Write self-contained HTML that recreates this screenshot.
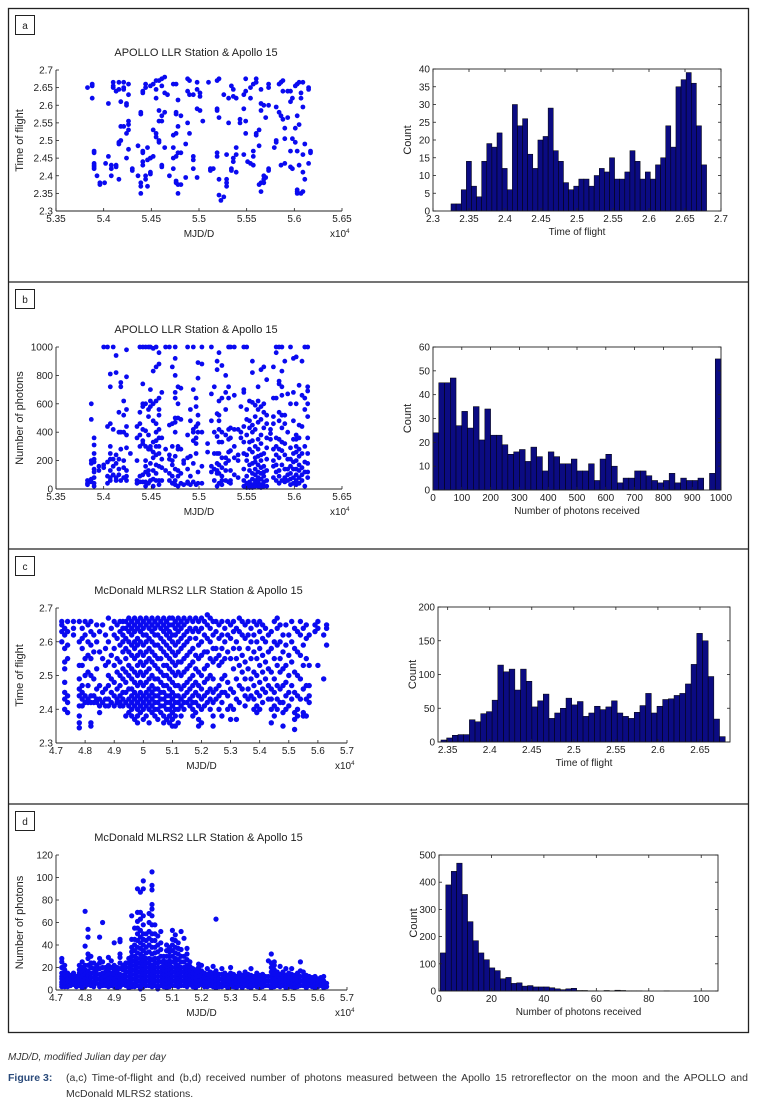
<!DOCTYPE html>
<html><head><meta charset="utf-8">
<style>
html,body{margin:0;padding:0;background:#fff;}
body{width:758px;height:1102px;position:relative;overflow:hidden;font-family:"Liberation Sans Narrow","Liberation Sans",sans-serif;}
svg{position:absolute;left:0;top:0;}
svg text{font-family:"Liberation Sans Narrow","Liberation Sans",sans-serif;fill:#222;}
.cap1{position:absolute;left:8px;top:1052px;font-size:10px;font-style:italic;color:#333;}
.cap2{position:absolute;left:8px;top:1070px;width:740px;font-size:10.5px;color:#333;line-height:16px;}
.cap2 b{position:absolute;left:0;top:0;color:#2a4a7a;}
.cap2 div{margin-left:58px;text-align:justify;text-align-last:left;}
</style></head>
<body>
<svg id="fig" width="758" height="1102" viewBox="0 0 758 1102"></svg>
<div class="cap1">MJD/D, modified Julian day per day</div>
<div class="cap2"><b>Figure 3:</b><div>(a,c) Time-of-flight and (b,d) received number of photons measured between the Apollo 15 retroreflector on the moon and the APOLLO and McDonald MLRS2 stations.</div></div>
<script>
// ---------- DATA ----------
const scatterA = [
[5.383,[2.65]],[5.388,[2.62,2.655,2.66]],[5.39,[2.47,2.465,2.43,2.42,2.425,2.435]],[5.393,[2.40]],[5.396,[2.375,2.38]],
[5.401,[2.38]],[5.402,[2.435]],[5.405,[2.455,2.605]],[5.408,[2.43,2.42,2.40]],[5.41,[2.65,2.655,2.665]],
[5.413,[2.43,2.425,2.64]],[5.416,[2.49,2.495,2.39,2.665,2.645]],[5.418,[2.50,2.54,2.61]],[5.421,[2.54,2.665,2.65,2.645]],
[5.424,[2.45,2.52,2.60,2.605]],[5.426,[2.66,2.63,2.545,2.555,2.53,2.475]],[5.43,[2.42,2.415]],[5.436,[2.40,2.485]],
[5.439,[2.58,2.575,2.35,2.37,2.38]],[5.441,[2.64,2.635,2.465,2.47,2.43,2.44]],[5.444,[2.66,2.65,2.40,2.39]],
[5.446,[2.48,2.445,2.37]],[5.449,[2.655,2.45,2.41,2.405,2.45]],[5.452,[2.66,2.53,2.455]],[5.455,[2.67,2.62,2.645,2.52,2.51]],
[5.458,[2.67,2.585,2.555,2.495,2.50]],[5.461,[2.675,2.655,2.57,2.555,2.43,2.425]],[5.464,[2.68,2.635,2.58,2.48]],
[5.467,[2.63]],[5.469,[2.40]],[5.473,[2.66,2.515,2.48,2.45,2.42]],[5.476,[2.66,2.58,2.575,2.52,2.455,2.38,2.385]],
[5.478,[2.615,2.54,2.465,2.35,2.375]],[5.481,[2.57,2.465,2.375]],[5.486,[2.49,2.395]],[5.488,[2.64,2.55,2.675]],
[5.49,[2.63,2.52,2.67]],[5.494,[2.63,2.455,2.445,2.42]],[5.498,[2.665,2.645,2.59,2.395]],[5.501,[2.635,2.585,2.625]],
[5.504,[2.555]],[5.51,[2.665]],[5.512,[2.415,2.42]],[5.515,[2.42]],[5.519,[2.67,2.59,2.585,2.465,2.455]],
[5.521,[2.675,2.565,2.345,2.39]],[5.523,[2.33]],[5.526,[2.63,2.34]],[5.529,[2.46,2.38,2.39,2.37]],[5.531,[2.62,2.55]],
[5.534,[2.655,2.42,2.415]],[5.536,[2.645,2.625,2.45,2.44]],[5.539,[2.62,2.46,2.41,2.48]],[5.543,[2.55,2.56]],
[5.547,[2.63,2.59,2.46]],[5.549,[2.675,2.64,2.555,2.52]],[5.551,[2.44]],[5.554,[2.62,2.65,2.435]],
[5.557,[2.66,2.47,2.455,2.43]],[5.56,[2.675,2.665,2.52,2.515]],[5.563,[2.53,2.485,2.375]],
[5.565,[2.645,2.605,2.585,2.355,2.38]],[5.568,[2.60,2.40,2.39,2.38]],[5.57,[2.565,2.395]],[5.573,[2.66,2.65,2.60,2.42,2.415]],
[5.579,[2.48]],[5.581,[2.595,2.50,2.495]],[5.584,[2.66,2.58]],[5.586,[2.665,2.57,2.43]],[5.588,[2.67,2.64,2.56]],
[5.59,[2.535,2.505,2.435]],[5.593,[2.64,2.565]],[5.596,[2.64,2.61,2.47,2.425]],[5.598,[2.62,2.42,2.505]],
[5.601,[2.655,2.535,2.495]],[5.603,[2.66,2.57,2.36,2.355,2.35,2.47]],[5.605,[2.665,2.545,2.43]],[5.607,[2.635,2.62,2.35]],
[5.609,[2.665,2.595,2.41,2.46,2.355]],[5.611,[2.49,2.39]],[5.615,[2.65,2.645,2.435]],[5.617,[2.47,2.465]]
];
const scatterB = [
[5.383,[60,40,30]],[5.387,[600,490,200,180,70,50]],[5.39,[360,310,250,210,190,140,120,80,40,20]],[5.395,[160,130]],
[5.40,[1000,170,150]],[5.404,[440,190,90,40,1000]],[5.407,[810,720,460,300,250,210,130,80,60]],[5.41,[1000,420,210,160,100]],
[5.413,[820,940,240,180,80,60]],[5.416,[540,400,210,140,100]],[5.418,[750,720,400,280,60]],[5.421,[620,520,400,200,150,80]],
[5.424,[980,790,560,440,380,290,130,90,60]],[5.428,[250]],[5.435,[440,360,200,60,40]],[5.438,[1000,540,460,380,300,90,50]],
[5.441,[1000,740,600,580,420,340,320,100,50]],[5.444,[1000,600,410,300,200,160,120,50,20]],[5.447,[1000,560,510,380,280,130,100,40]],
[5.449,[1000,700,620,580,300,280,180,60]],[5.452,[990,830,600,480,330,260,220,130,70,20]],
[5.455,[1000,860,620,460,400,340,300,240,170,110,60]],[5.458,[960,880,640,560,520,420,360,300,250,160,60,30]],
[5.461,[680,360,210,150,60]],[5.465,[1000,280,130]],[5.469,[1000,450,240,210,110,60]],[5.472,[860,460,300,200,170,90,40]],
[5.475,[1000,920,800,680,640,500,470,400,230,140,60,30]],[5.478,[720,600,500,300,280,130,90,20]],[5.481,[710,490,280,110,40]],
[5.484,[200,180,30]],[5.488,[1000,380,220,140,50,40]],[5.491,[560,480,230,90,30]],[5.494,[1000,700,420,400,340,180,50]],
[5.497,[640,580,440,360,320,250,30]],[5.499,[890,780,520,460,400,120,40]],[5.503,[1000,880,400,160,40]],[5.509,[320,260]],
[5.513,[1000,670,480,160,120]],[5.516,[720,400,250,140,60]],[5.519,[900,840,530,370,250,180,130,110,20]],
[5.521,[960,620,520,480,420,330,250,170,110,40]],[5.524,[870,640,400,330,220,150,90,60,30]],[5.528,[800,680,560,380,220,180,130,60]],
[5.531,[1000,720,640,420,350,260,200,50]],[5.533,[1000,430,360,270,130,60,40]],[5.537,[1000,660,420,300,220,100]],
[5.541,[420,240,200,80]],[5.544,[580,400,360]],[5.547,[1000,700,680,440,330,250,140,60,20]],
[5.55,[1000,560,490,380,240,200,90,40,10]],[5.553,[620,480,430,330,280,170,130,50,20,10]],
[5.556,[900,820,610,450,400,340,260,180,110,70,30,10]],[5.559,[590,510,420,300,220,190,140,100,60,40,20]],
[5.562,[720,620,560,470,350,280,230,170,120,80,50,20]],[5.565,[840,580,490,380,320,240,200,150,110,70,30,10]],
[5.568,[860,600,540,430,250,160,120,90,50,20]],[5.571,[770,520,460,360,290,210,130,60,20]],[5.575,[420,390,350]],
[5.578,[860,640,510,460,280,200,160,80]],[5.581,[1000,960,640,360,300,240,170,120,60]],
[5.584,[1000,760,740,540,480,350,280,220,130,90,40]],[5.587,[1000,830,720,660,520,430,330,270,170,60]],
[5.59,[900,520,460,320,240,140,80,50]],[5.593,[670,400,210,140,100,60]],[5.596,[1000,600,290,210,160,110,70,30]],
[5.599,[920,680,480,350,250,190,140,80,40]],[5.602,[930,600,380,350,300,260,200,140,100,60,30]],
[5.605,[730,450,360,280,230,170,130,80,40]],[5.608,[900,660,440,250,150,100,60]],[5.611,[1000,640,560,300,190,120,20]],
[5.614,[1000,720,690,600,510,360,250,180,120,80]]
];
const scatterC = [
[4.72,[2.66,2.65,2.63,2.60]],[4.73,[2.64,2.62,2.58,2.54,2.52,2.48,2.45,2.43,2.40]],[4.74,[2.66,2.63,2.59,2.55,2.44,2.42,2.39]],
[4.76,[2.66,2.64,2.62]],[4.78,[2.66,2.60,2.53,2.49,2.46,2.44,2.41,2.38,2.36,2.345]],[4.79,[2.64,2.61,2.58,2.53,2.47,2.45,2.43,2.41]],
[4.80,[2.66,2.62,2.55,2.50,2.44,2.42]],[4.81,[2.65,2.60,2.56,2.51,2.47,2.43,2.42]],[4.82,[2.66,2.63,2.59,2.55,2.50,2.44,2.42,2.36,2.35]],
[4.83,[2.62,2.57,2.49,2.44,2.42]],[4.84,[2.65,2.60,2.52,2.46,2.43,2.42]],[4.85,[2.63,2.57,2.47,2.43,2.41,2.39]],
[4.86,[2.65,2.55,2.45,2.42]],[4.87,[2.62,2.58,2.53,2.46,2.43,2.41]],[4.88,[2.67,2.60,2.54,2.50,2.47,2.43,2.41]],
[4.89,[2.64,2.56,2.49,2.45,2.42]],[4.90,[2.66,2.62,2.58,2.53,2.48,2.44,2.41]],[4.91,[2.65,2.61,2.55,2.51,2.46,2.43,2.42]],
[4.92,[2.66,2.63,2.59,2.54,2.50,2.47,2.44,2.42,2.41]],[4.93,[2.66,2.64,2.62,2.60,2.57,2.52,2.49,2.45,2.43,2.41]],
[4.94,[2.66,2.64,2.61,2.58,2.55,2.51,2.48,2.45,2.42,2.38]],[4.95,[2.67,2.65,2.63,2.60,2.57,2.53,2.50,2.46,2.43,2.41,2.39]],
[4.96,[2.66,2.64,2.62,2.59,2.56,2.52,2.49,2.46,2.44,2.42,2.40,2.38]],[4.97,[2.67,2.65,2.63,2.60,2.58,2.55,2.51,2.48,2.45,2.43,2.41,2.37]],
[4.98,[2.66,2.64,2.61,2.59,2.56,2.53,2.50,2.47,2.44,2.42,2.40,2.38,2.36]],[4.99,[2.67,2.65,2.63,2.60,2.57,2.54,2.51,2.48,2.45,2.43,2.41,2.39]],
[5.00,[2.66,2.64,2.62,2.59,2.56,2.53,2.50,2.47,2.44,2.42,2.40,2.37]],[5.01,[2.67,2.65,2.62,2.60,2.57,2.54,2.51,2.48,2.45,2.43,2.41,2.38]],
[5.02,[2.66,2.64,2.61,2.58,2.55,2.52,2.49,2.46,2.44,2.42,2.40,2.36]],[5.03,[2.67,2.65,2.63,2.60,2.57,2.54,2.50,2.47,2.45,2.43,2.41,2.39]],
[5.04,[2.66,2.64,2.62,2.59,2.56,2.53,2.49,2.46,2.44,2.42,2.40,2.38]],[5.05,[2.67,2.65,2.62,2.59,2.55,2.52,2.49,2.46,2.44,2.42,2.40,2.37]],
[5.06,[2.66,2.64,2.61,2.58,2.55,2.51,2.48,2.45,2.43,2.41,2.39]],[5.07,[2.67,2.65,2.63,2.60,2.57,2.53,2.50,2.47,2.45,2.43,2.41,2.38,2.36]],
[5.08,[2.66,2.64,2.62,2.59,2.56,2.53,2.50,2.47,2.44,2.42,2.40,2.37]],[5.09,[2.67,2.65,2.63,2.61,2.58,2.55,2.52,2.49,2.46,2.44,2.42,2.40,2.38,2.36]],
[5.10,[2.67,2.65,2.62,2.60,2.57,2.54,2.51,2.48,2.45,2.43,2.41,2.39,2.37,2.35]],[5.11,[2.66,2.64,2.62,2.59,2.56,2.53,2.50,2.47,2.44,2.42,2.40,2.38,2.35]],
[5.12,[2.67,2.65,2.63,2.60,2.57,2.54,2.51,2.47,2.44,2.42,2.40,2.36]],[5.13,[2.66,2.64,2.61,2.58,2.54,2.50,2.46,2.43,2.41,2.38]],
[5.14,[2.67,2.65,2.62,2.59,2.55,2.51,2.47,2.44,2.42,2.40]],[5.15,[2.66,2.63,2.60,2.56,2.52,2.48,2.45,2.42]],
[5.16,[2.67,2.64,2.61,2.57,2.53,2.49,2.46,2.43,2.41]],[5.17,[2.66,2.63,2.58,2.54,2.50,2.47,2.44,2.42,2.40,2.38]],
[5.18,[2.67,2.64,2.61,2.56,2.52,2.48,2.45,2.42,2.39]],[5.19,[2.66,2.63,2.59,2.55,2.51,2.47,2.44,2.41,2.37,2.35]],
[5.20,[2.67,2.64,2.60,2.56,2.50,2.46,2.43,2.40,2.36]],[5.21,[2.66,2.62,2.57,2.52,2.48,2.44,2.41]],
[5.22,[2.68,2.65,2.61,2.57,2.53,2.49,2.45,2.42]],[5.23,[2.67,2.64,2.60,2.55,2.50,2.46,2.43,2.40]],
[5.24,[2.66,2.62,2.58,2.54,2.49,2.45,2.42,2.38,2.35]],[5.25,[2.66,2.63,2.58,2.55,2.46,2.43]],
[5.26,[2.65,2.61,2.56,2.53,2.47,2.44,2.40]],[5.27,[2.66,2.62,2.58,2.54,2.49,2.45,2.42,2.38]],[5.28,[2.64,2.60,2.55,2.50,2.45]],
[5.29,[2.66,2.62,2.57,2.48,2.44,2.40]],[5.30,[2.65,2.61,2.55,2.46,2.41,2.37]],[5.31,[2.66,2.63,2.58,2.52,2.45,2.40]],
[5.32,[2.64,2.60,2.55,2.49,2.43,2.37]],[5.33,[2.67,2.63,2.58,2.53,2.47,2.42]],[5.34,[2.66,2.62,2.56,2.51,2.46]],
[5.35,[2.65,2.61,2.54,2.49,2.44,2.41]],[5.36,[2.66,2.62,2.58,2.52,2.46,2.43]],[5.37,[2.64,2.60,2.55,2.49,2.44]],
[5.38,[2.66,2.62,2.57,2.51,2.47,2.43,2.40]],[5.39,[2.65,2.60,2.55,2.50,2.45,2.41,2.39]],[5.40,[2.66,2.63,2.58,2.53,2.48,2.44,2.40]],
[5.41,[2.65,2.61,2.56,2.51,2.46,2.42]],[5.42,[2.64,2.60,2.54,2.49,2.45]],[5.43,[2.62,2.57,2.52,2.47,2.43]],
[5.44,[2.63,2.58,2.51,2.46,2.43,2.40,2.36]],[5.45,[2.66,2.60,2.55,2.49,2.45,2.41,2.38]],[5.46,[2.67,2.64,2.59,2.53,2.47,2.43,2.40]],
[5.47,[2.65,2.60,2.55,2.51,2.46,2.42]],[5.48,[2.62,2.57,2.52,2.47,2.42,2.39,2.35]],[5.49,[2.65,2.59,2.53,2.48,2.44,2.40]],
[5.50,[2.62,2.56,2.50,2.45,2.41]],[5.51,[2.66,2.60,2.54,2.47,2.43]],[5.52,[2.64,2.58,2.51,2.45,2.39,2.37,2.34]],
[5.53,[2.63,2.57,2.50,2.44,2.40,2.38]],[5.54,[2.66,2.62,2.56,2.49,2.43]],[5.55,[2.64,2.59,2.53,2.46,2.39,2.38]],
[5.56,[2.65,2.61,2.55,2.47,2.43,2.38]],[5.57,[2.62,2.53,2.47,2.44,2.42]],[5.59,[2.65,2.63]],[5.60,[2.66,2.64,2.53]],
[5.62,[2.62,2.49]],[5.63,[2.65,2.64,2.59]]
];
const scatterD = [
[4.72,[28,25,20,15,12,10,7,5,3]],[4.73,[22,18,14,10,8,5,3]],[4.74,[15,12,9,6,3]],[4.75,[13,10,7,4]],[4.76,[15,11,8,5]],
[4.77,[12,9,6,3]],[4.78,[22,18,15,12,9,6,4]],[4.79,[25,20,16,12,8,5,2]],[4.80,[70,39,22,18,14,10,6,3]],
[4.81,[54,47,32,28,22,17,13,9,5]],[4.82,[30,24,20,15,11,7,4]],[4.83,[24,19,15,11,7,3]],[4.84,[22,18,14,10,6]],
[4.85,[47,28,24,19,14,10,6,3]],[4.86,[60,25,20,15,11,7,4]],[4.87,[20,16,12,8,4]],[4.88,[29,22,18,14,10,6,3]],
[4.89,[26,20,15,11,7,4]],[4.90,[42,22,18,14,10,6,3]],[4.91,[20,16,12,8,4,2]],[4.92,[45,43,32,29,24,19,14,10,6,3]],
[4.93,[22,18,13,9,5]],[4.94,[24,20,16,12,8,4]],[4.95,[28,24,20,16,12,8,5,2]],[4.96,[66,45,38,34,30,26,22,18,14,10,6,3]],
[4.97,[55,45,40,35,30,26,22,18,14,10,6,3]],[4.98,[90,69,61,55,50,44,38,33,28,24,20,16,12,8,4]],
[4.99,[87,69,63,53,47,42,37,32,28,24,20,16,12,8,4,1]],[5.00,[97,90,66,58,50,45,40,35,30,26,22,18,14,10,6,3]],
[5.01,[50,44,38,33,28,24,20,16,12,8,4]],[5.02,[68,60,52,46,40,34,28,24,20,16,12,8,4]],
[5.03,[105,93,89,76,72,66,58,50,44,38,32,27,22,18,14,10,6,3]],[5.04,[58,50,44,38,33,28,24,20,16,12,8,4]],
[5.05,[48,40,34,28,24,20,16,12,8,4,1]],[5.06,[52,42,36,30,25,20,16,12,8,4]],[5.07,[30,26,22,18,14,10,6,3]],
[5.08,[40,35,30,25,21,17,13,9,5,2]],[5.09,[38,34,30,26,22,18,14,10,6,3]],[5.10,[53,45,40,35,30,25,20,16,12,8,4]],
[5.11,[49,44,38,33,28,24,20,16,12,8,4]],[5.12,[42,37,32,27,22,18,14,10,6,3]],[5.13,[52,36,30,25,20,16,12,8,4]],
[5.14,[46,30,25,20,16,12,8,4]],[5.15,[37,32,27,22,18,14,10,6,3]],[5.16,[25,21,17,13,9,5]],[5.17,[19,15,11,7,3]],
[5.18,[18,14,10,6,2]],[5.19,[23,20,16,12,8,4]],[5.20,[22,17,13,9,5]],[5.21,[15,11,7,3]],[5.22,[19,14,10,6,3]],
[5.23,[16,12,8,4]],[5.24,[21,15,11,7,3]],[5.25,[63,17,13,9,5,2]],[5.26,[14,10,6,3]],[5.27,[19,14,10,6,3]],
[5.28,[15,11,7,4]],[5.29,[13,9,5,2]],[5.30,[20,15,11,7,3]],[5.31,[14,10,6,3]],[5.32,[12,8,5,2]],[5.33,[15,11,7,4]],
[5.34,[13,9,5,2]],[5.35,[16,12,8,4]],[5.36,[14,10,6,3]],[5.37,[19,13,9,5,2]],[5.38,[12,8,4]],[5.39,[15,11,7,3]],
[5.40,[13,9,5,2]],[5.41,[14,10,6,3]],[5.42,[12,8,4]],[5.43,[26,12,8,4]],[5.44,[32,24,20,16,12,8,4,2]],
[5.45,[25,22,18,14,10,6,3]],[5.46,[16,12,8,4]],[5.47,[21,14,10,6,3]],[5.48,[16,12,8,4]],[5.49,[19,13,9,5,2]],
[5.50,[15,11,7,3]],[5.51,[19,14,10,6,3]],[5.52,[13,9,5,2]],[5.53,[15,11,7,3]],[5.54,[25,17,12,8,4]],[5.55,[16,12,8,4]],
[5.56,[13,9,5,2]],[5.57,[12,8,4]],[5.58,[11,7,3]],[5.59,[12,8,5,2]],[5.60,[10,6,3]],[5.61,[11,7,4]],[5.62,[12,8,5,2]],[5.63,[6,3]]
];
const histACounts = [2,2,6,14,7,4,14,19,18,22,12,6,30,24,26,16,12,20,21,29,17,14,8,6,7,9,9,7,10,12,11,15,9,9,11,17,14,9,11,9,13,15,24,18,35,37,39,36,24,13];
const histARange = [2.325, 2.68];
const histBCounts = [24,45,45,47,27,33,26,35,21,34,23,23,19,15,16,17,12,18,14,8,16,14,11,11,13,8,8,11,4,13,15,10,3,5,5,8,8,6,4,3,4,7,3,5,4,4,5,0,7,55];
const histBRange = [0, 1000];
const histCCounts = [3,6,10,11,11,33,30,42,45,62,114,104,108,77,108,90,52,61,71,35,43,50,65,55,60,38,43,53,48,52,61,43,38,35,44,54,72,43,53,63,64,69,72,86,115,161,150,97,34,8];
const histCRange = [2.342, 2.68];
const histDCounts = [140,390,440,470,355,255,185,140,115,85,75,45,50,28,30,18,20,15,15,15,12,8,5,8,10,2,2,1,1,0,2,1,3,2,1,1,1,0,0,0,0,1,0,0,0,0,0,0,0,0];
const histDRange = [0.5, 104.5];
const ticksAY = ["2.3","2.35","2.4","2.45","2.5","2.55","2.6","2.65","2.7"];
const ticksABX = ["5.35","5.4","5.45","5.5","5.55","5.6","5.65"];
const ticksBY = ["0","200","400","600","800","1000"];
const ticksCY = ["2.3","2.4","2.5","2.6","2.7"];
const ticksCDX = ["4.7","4.8","4.9","5","5.1","5.2","5.3","5.4","5.5","5.6","5.7"];
const ticksDY = ["0","20","40","60","80","100","120"];
const ticksHAX = ["2.3","2.35","2.4","2.45","2.5","2.55","2.6","2.65","2.7"];
const ticksHAY = ["0","5","10","15","20","25","30","35","40"];
const ticksHBX = ["0","100","200","300","400","500","600","700","800","900","1000"];
const ticksHBY = ["0","10","20","30","40","50","60"];
const ticksHCX = ["2.35","2.4","2.45","2.5","2.55","2.6","2.65"];
const ticksHCY = ["0","50","100","150","200"];
const ticksHDX = ["0","20","40","60","80","100"];
const ticksHDY = ["0","100","200","300","400","500"];

// ---------- DRAWING ----------
const NS = "http://www.w3.org/2000/svg";
const svg = document.getElementById('fig');
function mk(tag, attrs, parent){
  const e = document.createElementNS(NS, tag);
  for (const k in attrs) e.setAttribute(k, attrs[k]);
  (parent||svg).appendChild(e);
  return e;
}
function txt(s, x, y, size, anchor, parent, extra){
  const t = mk('text', Object.assign({x:x, y:y, 'font-size':size, 'text-anchor':anchor||'middle'}, extra||{}), parent);
  t.textContent = s;
  return t;
}
function scale(d0,d1,p0,p1){ return v => p0 + (v-d0)/(d1-d0)*(p1-p0); }

const frame = mk('rect',{x:8.5,y:8.5,width:740,height:1024,fill:'none',stroke:'#222','stroke-width':1.3});


[282,549,804].forEach(y=>{
  const l = mk('line',{x1:8,x2:749,y1:y,y2:y,stroke:'#222','stroke-width':1.3});
  
  
});
[['a',15],['b',289],['c',556],['d',811]].forEach(([s,y])=>{
  const g = mk('g',{});
  
  
  mk('rect',{x:15.5,y:y+0.5,width:19,height:19,fill:'#fff',stroke:'#222','stroke-width':1},g);
  txt(s,25,y+14,10,'middle',g);
});

function axesTicks(g, box, xs, xTickVals, xLabels, ys, yTickVals, yLabels, full){
  const {x0,x1,y0,y1} = box;
  if (full){
    mk('rect',{x:x0,y:y0,width:x1-x0,height:y1-y0,fill:'none',stroke:'#222','stroke-width':0.9},g);
  } else {
    mk('line',{x1:x0,x2:x0,y1:y0,y2:y1,stroke:'#222','stroke-width':0.9},g);
    mk('line',{x1:x0,x2:x1,y1:y1,y2:y1,stroke:'#222','stroke-width':0.9},g);
  }
  xTickVals.forEach((v,i)=>{
    const px = xs(v);
    mk('line',{x1:px,x2:px,y1:y1,y2:y1-3,stroke:'#222','stroke-width':0.8},g);
    if (full) mk('line',{x1:px,x2:px,y1:y0,y2:y0+3,stroke:'#222','stroke-width':0.8},g);
    const t = txt(xLabels[i], px, y1+11, 10, 'middle', g);
    
    
  });
  yTickVals.forEach((v,i)=>{
    const py = ys(v);
    mk('line',{x1:x0,x2:x0+3,y1:py,y2:py,stroke:'#222','stroke-width':0.8},g);
    if (full) mk('line',{x1:x1,x2:x1-3,y1:py,y2:py,stroke:'#222','stroke-width':0.8},g);
    const t = txt(yLabels[i], x0-3, py+3.5, 10, 'end', g);
    
    
  });
}

function scatter(name, data, box, xd, yd, xTicks, yTicks, title, ylab, r){
  const g = mk('g',{});
  
  
  const xs = scale(xd[0],xd[1],box.x0,box.x1), ys = scale(yd[0],yd[1],box.y1,box.y0);
  const pts = mk('g',{fill:'#0a0af0'},g);
  
  
  data.forEach(([x,vals])=>{
    vals.forEach(v=>{
      const c = mk('circle',{cx:xs(x).toFixed(1),cy:ys(v).toFixed(1),r:r},pts);
      
      
    });
  });
  axesTicks(g, box, xs, xTicks.map(Number), xTicks, ys, yTicks.map(Number), yTicks, false);
  const t = txt(title, (box.x0+box.x1)/2-3, box.y0-14, 11, 'middle', g);
  
  
  const xl = txt('MJD/D', (box.x0+box.x1)/2, box.y1+26, 10, 'middle', g);
  
  
  const ex = txt('x10', box.x1-12, box.y1+26, 10, 'start', g);
  
  
  const sup = mk('tspan',{'font-size':6,dy:-4},ex); sup.textContent='4';
  const cy = (box.y0+box.y1)/2;
  const yl = txt(ylab, 0, 0, 11, 'middle', g, {transform:`translate(${box.x0-33},${cy}) rotate(-90)`});
  
  
}

function hist(name, counts, range, box, xd, yd, xTicks, yTicks, xlab){
  const g = mk('g',{});
  
  
  const xs = scale(xd[0],xd[1],box.x0,box.x1), ys = scale(yd[0],yd[1],box.y1,box.y0);
  const w = (range[1]-range[0])/counts.length;
  const bars = mk('g',{fill:'#0b0b82',stroke:'#000','stroke-width':0.5},g);
  
  
  counts.forEach((c,i)=>{
    if (c<=0) return;
    const a = xs(range[0]+i*w), b = xs(range[0]+(i+1)*w);
    const r = mk('rect',{x:a.toFixed(2),y:ys(c).toFixed(2),width:(b-a).toFixed(2),height:(ys(0)-ys(c)).toFixed(2)},bars);
    
    
  });
  axesTicks(g, box, xs, xTicks.map(Number), xTicks, ys, yTicks.map(Number), yTicks, true);
  const xl = txt(xlab, (box.x0+box.x1)/2, box.y1+24, 10, 'middle', g);
  
  
  const cy = (box.y0+box.y1)/2;
  const yl = txt('Count', 0, 0, 11, 'middle', g, {transform:`translate(${box.x0-22},${cy}) rotate(-90)`});
  
  
}

scatter('scatter-a', scatterA, {x0:56,x1:342,y0:70,y1:211}, [5.35,5.65],[2.3,2.7], ticksABX, ticksAY, 'APOLLO LLR Station & Apollo 15','Time of flight',2.4);
scatter('scatter-b', scatterB, {x0:56,x1:342,y0:347,y1:489}, [5.35,5.65],[0,1000], ticksABX, ticksBY, 'APOLLO LLR Station & Apollo 15','Number of photons',2.4);
scatter('scatter-c', scatterC, {x0:56,x1:347,y0:608,y1:743}, [4.7,5.7],[2.3,2.7], ticksCDX, ticksCY, 'McDonald MLRS2 LLR Station & Apollo 15','Time of flight',2.7);
scatter('scatter-d', scatterD, {x0:56,x1:347,y0:855,y1:990}, [4.7,5.7],[0,120], ticksCDX, ticksDY, 'McDonald MLRS2 LLR Station & Apollo 15','Number of photons',2.6);

hist('histogram-a', histACounts, histARange, {x0:433,x1:721,y0:69,y1:211}, [2.3,2.7],[0,40], ticksHAX, ticksHAY, 'Time of flight');
hist('histogram-b', histBCounts, histBRange, {x0:433,x1:721,y0:347,y1:490}, [0,1000],[0,60], ticksHBX, ticksHBY, 'Number of photons received');
hist('histogram-c', histCCounts, histCRange, {x0:438,x1:730,y0:607,y1:742}, [2.3385,2.6857],[0,200], ticksHCX, ticksHCY, 'Time of flight');
hist('histogram-d', histDCounts, histDRange, {x0:439,x1:718,y0:855,y1:991}, [0,106.4],[0,500], ticksHDX, ticksHDY, 'Number of photons received');
</script>
</body></html>
